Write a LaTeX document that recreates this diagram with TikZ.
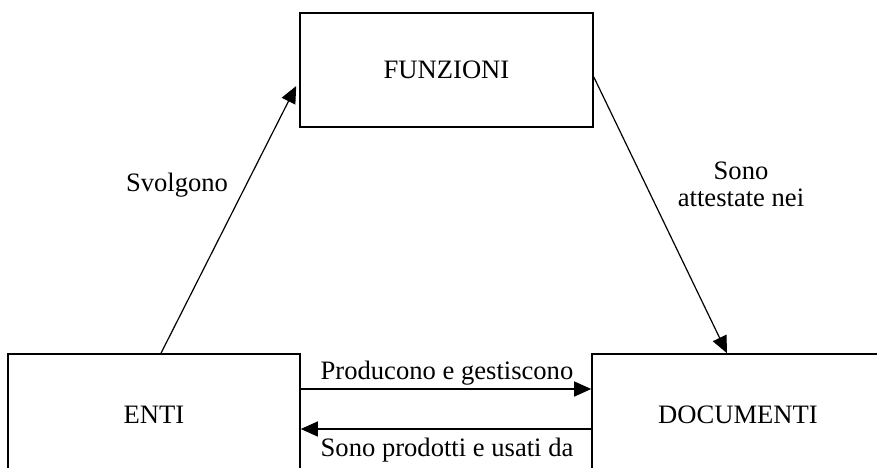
\documentclass[tikz,border=0pt]{standalone}
\usepackage{fontspec}
\setmainfont{Liberation Serif}
\usetikzlibrary{arrows.meta}
\begin{document}
\begin{tikzpicture}[x=1pt,y=-1pt,
  box/.style={draw=black,line width=1.6pt,rectangle,inner sep=0pt,font=\fontsize{26.6}{27}\selectfont},
  lbl/.style={inner sep=0pt,font=\fontsize{26.6}{27}\selectfont,align=center},
  arr/.style={line width=1.2pt,-{Triangle[length=17pt,width=15pt]}}]
\useasboundingbox (0,0) rectangle (877,467);
\fill[white] (0,0) rectangle (877,467);
\node[box,minimum width=293pt,minimum height=114pt] (fun) at (446.5,70) {FUNZIONI};
\node[box,minimum width=292pt,minimum height=121pt] (enti) at (154,414.5) {ENTI};
\node[box,minimum width=292pt,minimum height=121pt] (doc) at (738,414.5) {DOCUMENTI};
\draw[arr] ([xshift=7pt]enti.north) -- ([xshift=-3pt,yshift=-16pt]fun.west);
\draw[arr] ([yshift=-7pt]fun.east) -- ([xshift=-11pt]doc.north);
\draw[arr] ([yshift=25.5pt]enti.east) -- ([yshift=25.5pt]doc.west);
\draw[arr] ([yshift=-14.5pt]doc.west) -- ([yshift=-14.5pt]enti.east);
\node[lbl] (l1) at (177,185) {Svolgono};
\node[lbl] (l2) at (741,184) {Sono\\attestate nei};
\node[lbl] (l3) at (447,373) {Producono e gestiscono};
\node[lbl] (l4) at (447,450) {Sono prodotti e usati da};
\end{tikzpicture}
\end{document}
